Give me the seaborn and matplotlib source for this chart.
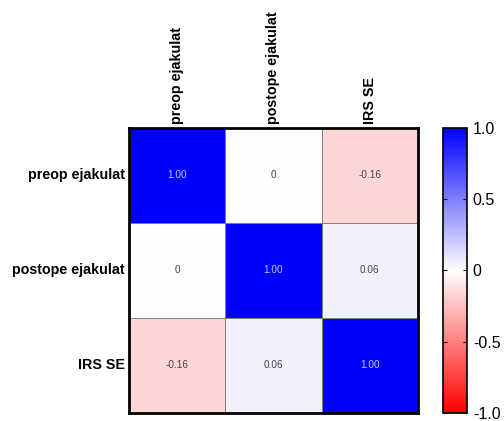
import matplotlib
matplotlib.use("Agg")

import matplotlib.pyplot as plt
import seaborn as sns
import numpy as np
import pandas as pd
from matplotlib.colors import LinearSegmentedColormap

labels = ["preop ejakulat", "postope ejakulat", "IRS SE"]
row_preop = [1.00, 0.00, -0.16]
row_postop = [0.00, 1.00, 0.06]
row_irs = [-0.16, 0.06, 1.00]
cbar_ticks = [1.0, 0.5, 0, -0.5, -1.0]
cbar_ticklabels = ["1.0", "0.5", "0", "-0.5", "-1.0"]

corr = pd.DataFrame([row_preop, row_postop, row_irs], index=labels, columns=labels)

# zero shown as plain "0", everything else two decimals
annot = corr.apply(lambda col: col.map(lambda v: "0" if v == 0 else f"{v:.2f}"))

plt.rcParams["font.family"] = ["Liberation Sans", "DejaVu Sans"]

cmap = LinearSegmentedColormap.from_list("rwb", ["#ff0000", "#ffffff", "#0000ff"])

fig = plt.figure(figsize=(5.04, 4.21), dpi=100)
ax = fig.add_axes([0.256, 0.019, 0.573, 0.677])
cax = fig.add_axes([0.879, 0.019, 0.048, 0.677])

sns.heatmap(
    corr,
    ax=ax,
    cbar_ax=cax,
    cmap=cmap,
    vmin=-1, vmax=1,
    annot=annot,
    fmt="",
    annot_kws={"fontsize": 7.2},
    linewidths=0.6,
    linecolor="#808080",
    cbar_kws={"ticks": cbar_ticks},
)

# text colours: light on the dark diagonal, dark gray elsewhere
for t in ax.texts:
    if t.get_text() == "1.00":
        t.set_color("#c8c8f0")
    else:
        t.set_color("#444444")

ax.xaxis.tick_top()
ax.set_xticklabels(labels, rotation=90, fontsize=10.3, fontweight="bold")
ax.set_yticklabels(labels, rotation=0, fontsize=10.3, fontweight="bold")
ax.tick_params(length=0, pad=3)
ax.set_xlabel("")
ax.set_ylabel("")
for s in ax.spines.values():
    s.set_visible(True)
    s.set_linewidth(2)
    s.set_color("black")

cbar = ax.collections[0].colorbar
cbar.set_ticklabels(cbar_ticklabels)
cbar.outline.set_linewidth(1.2)
cbar.outline.set_edgecolor("black")
cax.tick_params(labelsize=11.5, direction="in", length=3, width=0.8, left=True, right=True, pad=4)

fig.savefig("out.png", dpi=100)
